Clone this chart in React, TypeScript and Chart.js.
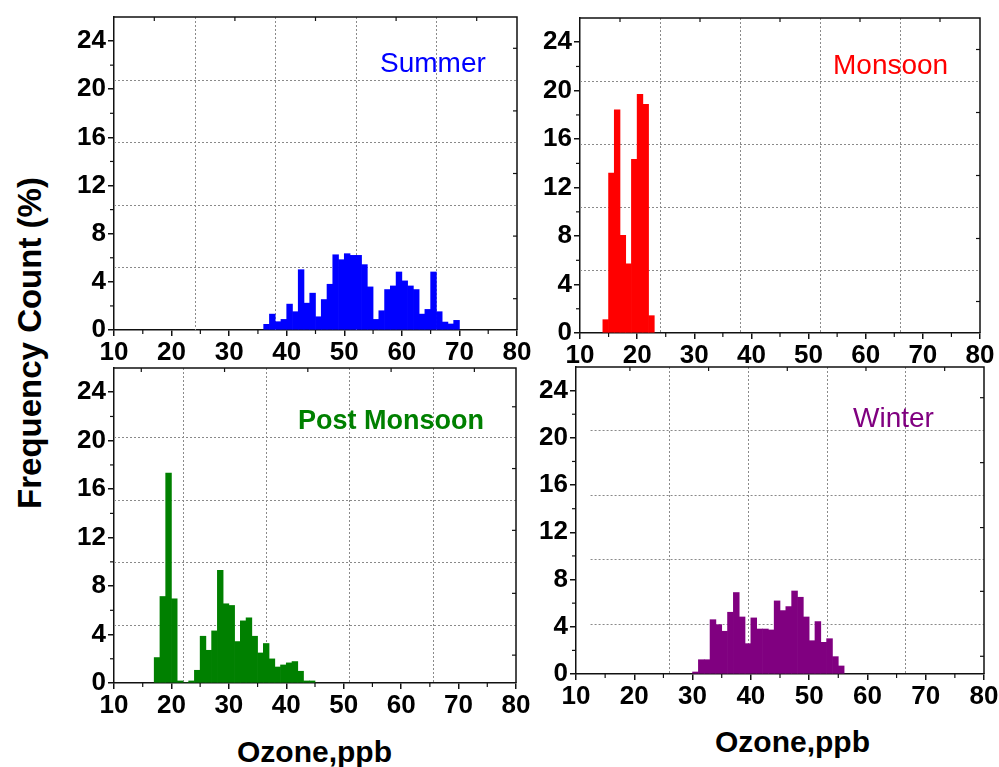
import React, { useEffect, useRef } from 'react';
import { Chart, registerables } from 'chart.js';

Chart.register(...registerables);

// ---------------- data ----------------
const xTicks = [10, 20, 30, 40, 50, 60, 70, 80];
const yTicks = [0, 4, 8, 12, 16, 20, 24];

const summerOzone = [36, 37, 38, 39, 40, 41, 42, 43, 44, 45, 46, 47, 48, 49, 50, 51, 52, 53, 54, 55, 56, 57, 58, 59, 60, 61, 62, 63, 64, 65, 66, 67, 68, 69];
const summerPercent = [0.47, 1.32, 0.69, 0.88, 2.15, 1.52, 5.01, 2.23, 3.06, 1.1, 2.53, 3.8, 6.25, 5.84, 6.34, 6.2, 6.2, 5.43, 3.58, 0.88, 1.6, 3.36, 3.66, 4.82, 4.08, 3.66, 3.36, 1.32, 1.71, 4.82, 1.52, 0.66, 0.5, 0.8];

const monsoonOzone = [14, 15, 16, 17, 18, 19, 20, 21, 22];
const monsoonPercent = [1.1, 13.19, 18.43, 8.06, 5.71, 14.34, 19.7, 18.87, 1.43];

const postMonsoonOzone = [17, 18, 19, 20, 21, 22, 23, 24, 25, 26, 27, 28, 29, 30, 31, 32, 33, 34, 35, 36, 37, 38, 39, 40, 41, 42, 43, 44];
const postMonsoonPercent = [2.1, 7.14, 17.32, 6.95, 0.17, 0, 0.17, 1.05, 3.86, 2.7, 4.3, 9.3, 6.54, 6.4, 3.42, 5.13, 5.38, 3.86, 2.48, 3.26, 1.99, 1.32, 1.49, 1.66, 1.77, 0.97, 0.17, 0.17];

const winterOzone = [30, 31, 32, 33, 34, 35, 36, 37, 38, 39, 40, 41, 42, 43, 44, 45, 46, 47, 48, 49, 50, 51, 52, 53, 54, 55];
const winterPercent = [0.17, 1.21, 1.21, 4.6, 4.18, 3.62, 5.23, 6.9, 4.83, 2.57, 4.75, 3.81, 3.81, 3.73, 6.19, 5.37, 5.71, 7.03, 6.5, 4.83, 2.82, 4.44, 2.68, 2.99, 1.47, 0.68];

// grid / secondary tick positions (in data units)
const summerGridX = [24, 38, 52, 66];
const summerGridY = [5.2, 10.4, 15.6, 20.8];
const summerTopTicks = [17, 31, 45, 59, 73];
const summerRightTicks = [2.6, 7.8, 13, 18.2, 23.4];

const monsoonGridX = [24, 38, 52, 66];
const monsoonGridY = [5.2, 10.4, 15.6, 20.8];
const monsoonTopTicks = [17, 31, 45, 59, 73];
const monsoonRightTicks = [2.6, 7.8, 13, 18.2, 23.4];

const postGridX = [22, 36.5, 51, 65.5];
const postGridY = [4.8, 10, 15.1, 20.3];
const postTopTicks = [14.75, 29.25, 43.75, 58.25, 72.75];
const postRightTicks = [2.3, 7.4, 12.6, 17.7, 22.8];

const winterGridX = [26, 39.5, 53, 66.5];
const winterGridY = [4.2, 9.7, 15.2, 20.7];
const winterTopTicks = [19.25, 32.75, 46.25, 59.75, 73.25];
const winterRightTicks = [1.5, 7.0, 12.4, 17.9, 23.4];

// ---------------- layout ----------------
const Y_AXIS_W = 60;
const X_AXIS_H = 40;
const PAD_T = 4;
const PAD_R = 18;
const TICK_FONT = "'Liberation Sans Narrow', 'Arial Narrow', 'Liberation Sans', Arial, sans-serif";
const TEXT_FONT = "'Liberation Sans', Arial, Helvetica, sans-serif";

type Panel = {
  ozone: number[];
  values: number[];
  color: string;
  box: { l: number; t: number; r: number; b: number };
  gridX: number[];
  gridY: number[];
  gridYFrom: number;
  topTicks: number[];
  rightTicks: number[];
};

const panels: Panel[] = [
  { ozone: summerOzone, values: summerPercent, color: '#0000ff', box: { l: 114, t: 17, r: 517, b: 330 }, gridX: summerGridX, gridY: summerGridY, gridYFrom: 10, topTicks: summerTopTicks, rightTicks: summerRightTicks },
  { ozone: monsoonOzone, values: monsoonPercent, color: '#ff0000', box: { l: 580, t: 18, r: 980, b: 333 }, gridX: monsoonGridX, gridY: monsoonGridY, gridYFrom: 10, topTicks: monsoonTopTicks, rightTicks: monsoonRightTicks },
  { ozone: postMonsoonOzone, values: postMonsoonPercent, color: '#008000', box: { l: 114, t: 368, r: 516, b: 683 }, gridX: postGridX, gridY: postGridY, gridYFrom: 10, topTicks: postTopTicks, rightTicks: postRightTicks },
  { ozone: winterOzone, values: winterPercent, color: '#800080', box: { l: 576, t: 367, r: 984, b: 674 }, gridX: winterGridX, gridY: winterGridY, gridYFrom: 12.5, topTicks: winterTopTicks, rightTicks: winterRightTicks },
];

function framePlugin(p: Panel) {
  return {
    id: 'frame',
    beforeDatasetsDraw(chart: any) {
      const { ctx, chartArea: a, scales } = chart;
      const x = scales.x;
      const y = scales.y;
      ctx.save();
      ctx.strokeStyle = '#8a8a8a';
      ctx.lineWidth = 1;
      ctx.setLineDash([2, 2]);
      p.gridX.forEach((v) => {
        const px = Math.round(x.getPixelForValue(v)) + 0.5;
        ctx.beginPath();
        ctx.moveTo(px, a.top);
        ctx.lineTo(px, a.bottom);
        ctx.stroke();
      });
      const x0 = x.getPixelForValue(p.gridYFrom);
      p.gridY.forEach((v) => {
        const py = Math.round(y.getPixelForValue(v)) + 0.5;
        ctx.beginPath();
        ctx.moveTo(x0, py);
        ctx.lineTo(a.right, py);
        ctx.stroke();
      });
      ctx.restore();
    },
    afterDraw(chart: any) {
      const { ctx, chartArea: a, scales } = chart;
      const x = scales.x;
      const y = scales.y;
      ctx.save();
      ctx.strokeStyle = '#111';
      ctx.lineWidth = 1.5;
      ctx.setLineDash([]);
      // top and right frame
      ctx.beginPath();
      ctx.moveTo(a.left, a.top);
      ctx.lineTo(a.right, a.top);
      ctx.lineTo(a.right, a.bottom);
      ctx.stroke();
      ctx.lineWidth = 1.2;
      // minor ticks on x (outward)
      for (let i = 0; i < xTicks.length - 1; i++) {
        const px = x.getPixelForValue((xTicks[i] + xTicks[i + 1]) / 2);
        ctx.beginPath();
        ctx.moveTo(px, a.bottom);
        ctx.lineTo(px, a.bottom + 4);
        ctx.stroke();
      }
      // minor ticks on y (outward)
      for (let i = 0; i < yTicks.length - 1; i++) {
        const py = y.getPixelForValue((yTicks[i] + yTicks[i + 1]) / 2);
        ctx.beginPath();
        ctx.moveTo(a.left, py);
        ctx.lineTo(a.left - 4, py);
        ctx.stroke();
      }
      // inward ticks on top and right
      p.topTicks.forEach((v) => {
        const px = x.getPixelForValue(v);
        ctx.beginPath();
        ctx.moveTo(px, a.top);
        ctx.lineTo(px, a.top + 4);
        ctx.stroke();
      });
      p.rightTicks.forEach((v) => {
        const py = y.getPixelForValue(v);
        ctx.beginPath();
        ctx.moveTo(a.right, py);
        ctx.lineTo(a.right - 4, py);
        ctx.stroke();
      });
      ctx.restore();
    },
  };
}

function PanelChart({ p }: { p: Panel }) {
  const ref = useRef<HTMLCanvasElement>(null);
  const W = p.box.r - p.box.l + Y_AXIS_W + PAD_R;
  const H = p.box.b - p.box.t + PAD_T + X_AXIS_H;
  useEffect(() => {
    const chart = new Chart(ref.current as HTMLCanvasElement, {
      type: 'bar',
      data: {
        datasets: [
          {
            data: p.ozone.map((o, i) => ({ x: o + 0.5, y: p.values[i] })),
            backgroundColor: p.color,
            borderWidth: 0,
            barPercentage: 1,
            categoryPercentage: 1,
          } as any,
        ],
      },
      options: {
        responsive: false,
        animation: false,
        devicePixelRatio: 1,
        layout: { padding: { top: PAD_T, right: PAD_R, left: 0, bottom: 0 } },
        plugins: { legend: { display: false }, tooltip: { enabled: false } },
        scales: {
          x: {
            type: 'linear',
            min: 10,
            max: 80,
            offset: false,
            afterBuildTicks: (s: any) => {
              s.ticks = xTicks.map((v) => ({ value: v }));
            },
            afterFit: (s: any) => {
              s.height = X_AXIS_H;
              s.paddingLeft = 0;
              s.paddingRight = 0;
            },
            grid: { offset: false, drawOnChartArea: false, drawTicks: true, tickLength: 6, color: '#111', lineWidth: 1.5 },
            border: { display: true, color: '#111', width: 1.5 },
            ticks: { color: '#000', padding: 1, maxRotation: 0, autoSkip: false, font: { family: TICK_FONT, size: 26, weight: 'bold' } },
          },
          y: {
            type: 'linear',
            min: 0,
            max: 26,
            afterBuildTicks: (s: any) => {
              s.ticks = yTicks.map((v) => ({ value: v }));
            },
            afterFit: (s: any) => {
              s.width = Y_AXIS_W;
              s.paddingTop = 0;
              s.paddingBottom = 0;
            },
            grid: { drawOnChartArea: false, drawTicks: true, tickLength: 6, color: '#111', lineWidth: 1.5 },
            border: { display: true, color: '#111', width: 1.5 },
            ticks: { color: '#000', padding: 2, autoSkip: false, font: { family: TICK_FONT, size: 26, weight: 'bold' } },
          },
        },
      } as any,
      plugins: [framePlugin(p) as any],
    });
    return () => chart.destroy();
  }, []);
  return (
    <canvas
      ref={ref}
      width={W}
      height={H}
      style={{ position: 'absolute', left: p.box.l - Y_AXIS_W, top: p.box.t - PAD_T, width: W, height: H }}
    />
  );
}

function Label({ text, left, baseline, size, color, bold }: { text: string; left: number; baseline: number; size: number; color: string; bold?: boolean }) {
  return (
    <div
      style={{
        position: 'absolute',
        left,
        top: baseline - 0.8465 * size,
        fontFamily: TEXT_FONT,
        fontSize: size,
        lineHeight: 1,
        fontWeight: bold ? 'bold' : 'normal',
        color,
        whiteSpace: 'nowrap',
      }}
    >
      {text}
    </div>
  );
}

export default function App() {
  return (
    <div style={{ position: 'absolute', left: 0, top: 0, width: 999, height: 767, background: '#fff', overflow: 'hidden' }}>
      {panels.map((p, i) => (
        <PanelChart key={i} p={p} />
      ))}
      <Label text="Summer" left={380} baseline={73} size={28} color="#0000ff" />
      <Label text="Monsoon" left={833} baseline={75} size={28} color="#ff0000" />
      <Label text="Post Monsoon" left={298} baseline={430} size={27} color="#008000" bold />
      <Label text="Winter" left={853} baseline={428} size={28} color="#800080" />
      <Label text="Ozone,ppb" left={237} baseline={762} size={30} color="#000" bold />
      <Label text="Ozone,ppb" left={715} baseline={752} size={30} color="#000" bold />
      <div
        style={{
          position: 'absolute',
          left: 29,
          top: 343,
          transform: 'translate(-50%, -50%) rotate(-90deg)',
          fontFamily: TEXT_FONT,
          fontSize: 33,
          lineHeight: 1,
          fontWeight: 'bold',
          color: '#000',
          whiteSpace: 'nowrap',
        }}
      >
        Frequency Count (%)
      </div>
    </div>
  );
}
